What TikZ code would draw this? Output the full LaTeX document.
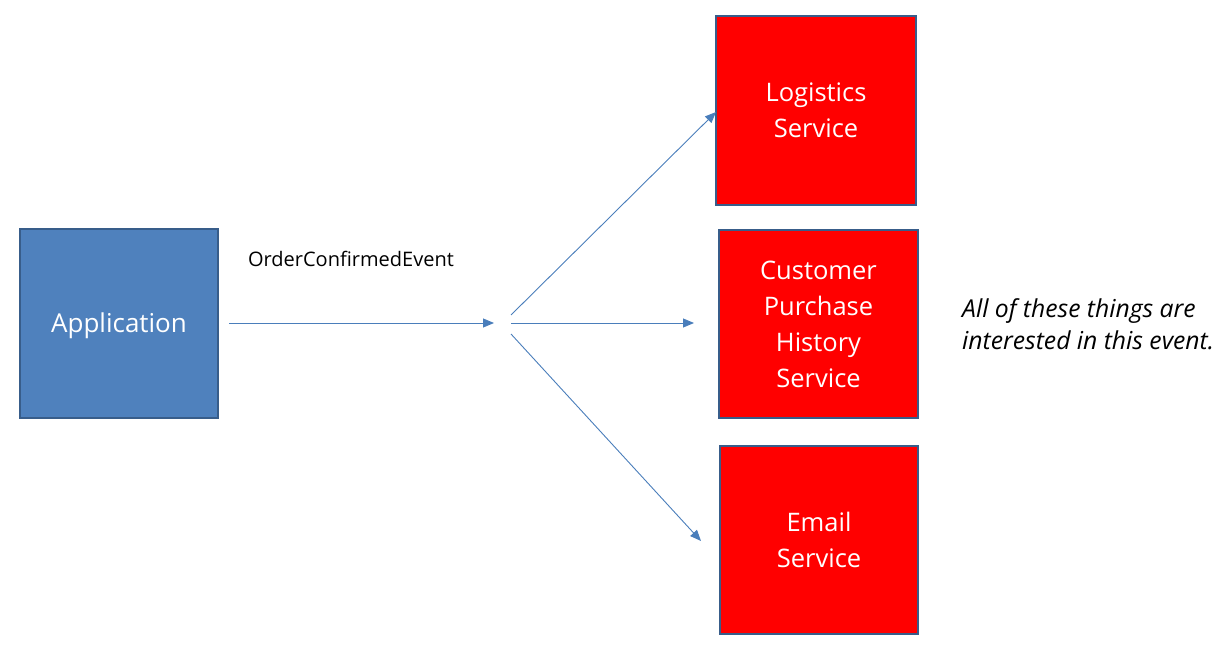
\documentclass[tikz,border=0pt]{standalone}
\usepackage{fontspec}
\setmainfont{Open Sans}
\usetikzlibrary{arrows.meta}
\definecolor{boxblue}{HTML}{4F81BD}
\definecolor{edgeblue}{HTML}{385D8A}
\definecolor{arrowblue}{HTML}{4A7EBB}
\definecolor{boxred}{HTML}{FF0000}
\tikzset{
  svc/.style={draw=edgeblue, line width=2.5pt, fill=boxred, text=white, align=center,
    font=\fontsize{25.5}{36}\selectfont, inner sep=0pt},
  appbox/.style={draw=edgeblue, line width=2.5pt, fill=boxblue, align=center, inner sep=0pt},
  applabel/.style={text=white, font=\fontsize{26}{36}\selectfont, inner sep=0pt},
  conn/.style={draw=arrowblue, line width=0.9pt, -{Triangle[length=11pt,width=9pt]}},
}
\begin{document}
\begin{tikzpicture}[x=1pt,y=-1pt]
\useasboundingbox (0,0) rectangle (1221,658);
\node[appbox, minimum width=198pt, minimum height=189pt] (app) at (119,323.5) {};
\node[applabel] (applbl) at (119,326) {Application};
\node[svc, minimum width=200pt, minimum height=189pt] (log) at (816,110.5) {Logistics\\Service};
\node[svc, minimum width=199pt, minimum height=188pt] (cph) at (818.5,324) {Customer\\Purchase\\History\\Service};
\node[svc, minimum width=198pt, minimum height=188pt] (email) at (819,540) {Email\\Service};
\node[font=\fontsize{20}{24}\selectfont, anchor=base] (evt) at (351,266) {OrderConfirmedEvent};
\node[font=\itshape\fontsize{24.7}{32}\selectfont, align=left, anchor=north west, inner sep=0pt] (note) at (962,298) {All of these things are\\interested in this event.};
\coordinate (a0) at (229,323);
\coordinate (a1) at (494,323);
\coordinate (h1) at (511,315);
\coordinate (h2) at (511,323);
\coordinate (h3) at (511,334);
\coordinate (t1) at (716,112);
\coordinate (t2) at (694,323);
\coordinate (t3) at (701,541);
\draw[conn] (a0) -- (a1);
\draw[conn] (h1) -- (t1);
\draw[conn] (h2) -- (t2);
\draw[conn] (h3) -- (t3);
\end{tikzpicture}
\end{document}
